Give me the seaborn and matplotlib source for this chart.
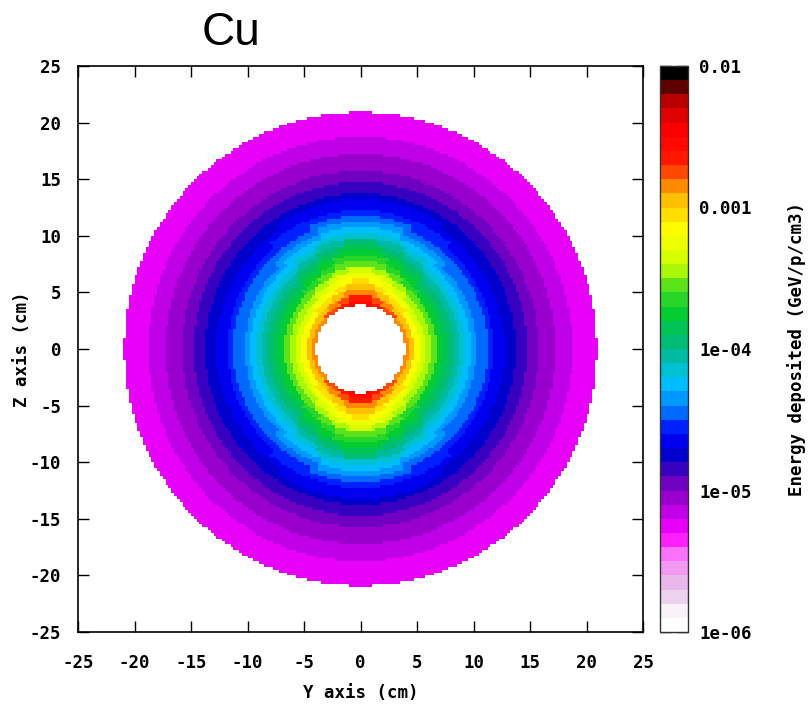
import numpy as np
import pandas as pd
import matplotlib
matplotlib.use("Agg")
import matplotlib.pyplot as plt
from matplotlib.colors import LinearSegmentedColormap, ListedColormap
import seaborn as sns

# ---------------------------------------------------------------------------
# Energy deposition in a copper cylinder shell (cross-section, log10 GeV/p/cm3)
# ---------------------------------------------------------------------------
title = "Cu"
x_label = "Y axis (cm)"
y_label = "Z axis (cm)"
cbar_label = "Energy deposited (GeV/p/cm3)"

axis_ticks = [-25, -20, -15, -10, -5, 0, 5, 10, 15, 20, 25]
cbar_ticks = [-6, -5, -4, -3, -2]
cbar_tick_labels = ["1e-06", "1e-05", "1e-04", "0.001", "0.01"]

inner_radius = 3.9   # cm, beam hole
outer_radius = 20.9  # cm, outer surface of the shell

# radial sampling positions of the profiles (cm)
profile_radii = np.arange(4.0, 21.01, 0.5)

# log10(energy) along the horizontal (Y) direction
profile_along_y = [
    -2.82, -2.97, -3.12, -3.33, -3.48, -3.60, -3.74, -3.86, -3.96, -4.06,
    -4.18, -4.27, -4.34, -4.42, -4.49, -4.56, -4.61, -4.66, -4.71, -4.77,
    -4.83, -4.88, -4.93, -4.97, -5.02, -5.06, -5.10, -5.13, -5.16, -5.19,
    -5.21, -5.23, -5.25, -5.26, -5.27,
]

# log10(energy) along the vertical (Z) direction
profile_along_z = [
    -2.55, -2.66, -2.82, -2.95, -3.08, -3.20, -3.38, -3.52, -3.62, -3.75,
    -3.85, -3.98, -4.12, -4.25, -4.36, -4.46, -4.56, -4.62, -4.68, -4.76,
    -4.82, -4.88, -4.93, -4.97, -5.00, -5.05, -5.09, -5.12, -5.15, -5.18,
    -5.20, -5.22, -5.24, -5.25, -5.26,
]

# ---------------------------------------------------------------------------
# Scoring mesh: 0.25 cm cells over [-25, 25] x [-25, 25]
# ---------------------------------------------------------------------------
cell = 0.25
n_cells = int(50 / cell)
centres = -25 + cell * (np.arange(n_cells) + 0.5)
yy, zz = np.meshgrid(centres, centres[::-1])  # rows run from top (z=+25) down
rr = np.hypot(yy, zz)

idx = np.clip(np.rint((rr - profile_radii[0]) / 0.5).astype(int), 0, len(profile_radii) - 1)
py = np.asarray(profile_along_y)[idx]
pz = np.asarray(profile_along_z)[idx]
w = ((zz / np.maximum(rr, 1e-9)) ** 2) ** 3
log_edep = (1 - w) * py + w * pz

outside = (rr < inner_radius) | (rr > outer_radius)
grid = pd.DataFrame(log_edep, index=centres[::-1], columns=centres)

# ---------------------------------------------------------------------------
# Palette: white -> pink -> magenta -> blue -> cyan -> green -> yellow -> red -> black
# ---------------------------------------------------------------------------
anchors = [
    (0.000, "#ffffff"), (0.020, "#fbf6fb"), (0.040, "#f1e0f1"), (0.065, "#e8c0e8"),
    (0.098, "#f0a0f0"), (0.132, "#ff66ff"), (0.162, "#ff00ff"), (0.195, "#cc00ee"),
    (0.232, "#9900cc"), (0.270, "#5500bb"), (0.305, "#0000cc"), (0.345, "#0000ff"),
    (0.382, "#0066ff"), (0.412, "#0099ff"), (0.445, "#00ccff"), (0.472, "#00bbbb"),
    (0.512, "#00bb77"), (0.562, "#00cc33"), (0.607, "#44dd22"), (0.655, "#ccff00"),
    (0.715, "#ffff00"), (0.762, "#ffcc00"), (0.790, "#ff9900"), (0.817, "#ff5500"),
    (0.850, "#ff1100"), (0.895, "#ff0000"), (0.930, "#dd0000"), (0.965, "#990000"),
    (0.985, "#330000"), (1.000, "#000000"),
]
smooth = LinearSegmentedColormap.from_list("edep", anchors)
palette = ListedColormap(smooth(np.linspace(0, 1, 40)))

# ---------------------------------------------------------------------------
# Figure
# ---------------------------------------------------------------------------
sns.set_style("white")
mono = ["DejaVu Sans Mono", "DejaVu Sans"]
plt.rcParams["font.family"] = mono
plt.rcParams["font.weight"] = "bold"
plt.rcParams["text.color"] = "black"
plt.rcParams["axes.labelcolor"] = "black"

fig = plt.figure(figsize=(8.09, 7.06), dpi=100)
ax = fig.add_axes([78 / 809, 1 - 632 / 706, 565 / 809, 566 / 706])
cax = fig.add_axes([660 / 809, 1 - 632 / 706, 28 / 809, 566 / 706])

sns.heatmap(grid, mask=outside, cmap=palette, vmin=-6, vmax=-2,
            ax=ax, cbar_ax=cax, square=False, xticklabels=False,
            yticklabels=False, rasterized=True)

# main axes frame and ticks
for s in ax.spines.values():
    s.set_visible(True)
    s.set_color("black")
    s.set_linewidth(1.2)
tick_pos = np.linspace(0, n_cells, len(axis_ticks))
ax.set_xticks(tick_pos)
ax.set_xticklabels([str(t) for t in axis_ticks])
ax.set_yticks(tick_pos)
ax.set_yticklabels([str(t) for t in axis_ticks[::-1]], rotation=0)
ax.tick_params(axis="both", which="major", direction="in", length=8, width=1,
               top=True, right=True, bottom=True, left=True,
               labelsize=12.5, colors="black")
ax.tick_params(axis="x", pad=16)
ax.tick_params(axis="y", pad=12)
for lab in ax.get_xticklabels() + ax.get_yticklabels():
    lab.set_fontweight("bold")
ax.set_xlabel(x_label, fontsize=12.5, fontweight="bold")
ax.set_ylabel(y_label, fontsize=12.5, fontweight="bold")
ax.xaxis.set_label_coords(0.5, -(684 - 632) / 566)
ax.yaxis.set_label_coords((31 - 78) / 565, 0.5)
ax.set_xlim(0, n_cells)
ax.set_ylim(n_cells, 0)

# colour bar ticks: decades plus 2..9 minor ticks
cb = ax.collections[0].colorbar
cb.outline.set_visible(True)
cb.outline.set_linewidth(1.0)
cb.outline.set_edgecolor("#333333")
cax.set_yticks(cbar_ticks)
cax.set_yticklabels(cbar_tick_labels)
minor = [d + np.log10(k) for d in range(-6, -2) for k in range(2, 10)]
cax.set_yticks(minor, minor=True)
cax.tick_params(axis="y", which="major", direction="in", length=8, width=1,
                left=True, right=True, labelleft=False, labelright=True,
                labelsize=12.5, pad=8, colors="black")
cax.tick_params(axis="y", which="minor", direction="in", length=4, width=1,
                left=True, right=True)
for lab in cax.get_yticklabels():
    lab.set_fontweight("bold")
cax.set_ylabel(cbar_label, fontsize=12.5, fontweight="bold")
cax.yaxis.set_label_position("right")
cax.yaxis.set_label_coords((787 - 660) / 28, 0.5)

fig.text(231 / 809, 1 - 33 / 706, title, fontsize=33, ha="center", va="center",
         family=["Liberation Sans", "DejaVu Sans"], fontweight="normal",
         color="black")

fig.savefig("out.png", dpi=100, facecolor="white")
